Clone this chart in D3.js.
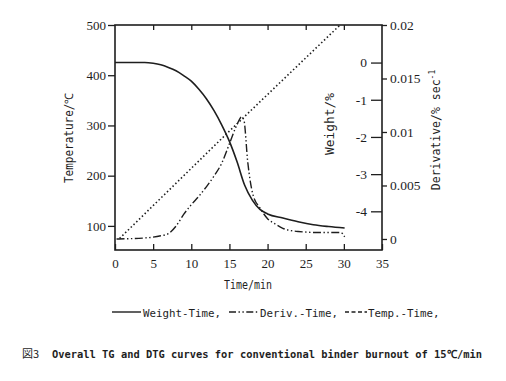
<!DOCTYPE html>
<html><head><meta charset="utf-8">
<script src="https://cdn.jsdelivr.net/npm/d3@7"></script>
<style>
html,body{margin:0;padding:0;background:#fff;}
svg{display:block;}
</style></head>
<body>
<svg id="c" width="506" height="381"></svg>
<script>
// ---- data ----
const weightTime = [0, 3.9, 5, 6, 7, 8, 9, 10, 11, 12, 13, 14, 15, 16, 17, 18, 19, 20, 22, 24, 26, 28, 30.1];
const weightVal  = [0, 0, -0.02, -0.06, -0.13, -0.22, -0.35, -0.5, -0.72, -0.98, -1.3, -1.68, -2.12, -2.67, -3.3, -3.7, -3.95, -4.07, -4.18, -4.28, -4.36, -4.41, -4.45];

const derivTime = [0.2, 4, 6, 7, 8, 9, 10, 11, 12, 13, 14, 15, 16, 16.6, 16.9, 17.4, 18.1, 19, 20, 21, 22, 24, 27, 29.6, 30.1];
const derivVal  = [0, 0.0001, 0.0003, 0.0005, 0.0012, 0.0023, 0.0032, 0.0040, 0.0049, 0.0059, 0.0071, 0.0089, 0.0107, 0.0114, 0.0111, 0.0072, 0.0041, 0.0029, 0.0019, 0.0014, 0.0010, 0.0007, 0.0006, 0.0006, 0.0002];

const tempTime = [0.6, 14.4, 29.5];
const tempVal  = [75, 280, 500];

const timeTicks   = [0, 5, 10, 15, 20, 25, 30, 35];
const tempTicks   = [100, 200, 300, 400, 500];
const weightTicks = [0, -1, -2, -3, -4];
const derivTicks  = [0, 0.005, 0.01, 0.015, 0.02];
const derivLabels = ["0", "0.005", "0.01", "0.015", "0.02"];

const legendLabels = ["Weight-Time,", "Deriv.-Time,", "Temp.-Time,"];
const captionPrefix = "図3";
const captionText = "Overall TG and DTG curves for conventional binder burnout of 15℃/min";

// ---- layout ----
const L = 115, R = 382, T = 25, B = 250;
const ink = "#1e1e1e";
const svg = d3.select("#c");

const x  = d3.scaleLinear().domain([0, 35]).range([L, R]);
const yT = d3.scaleLinear().domain([52, 500]).range([B, T]);
const yW = d3.scaleLinear().domain([-5.04, 1.01]).range([B, T]);
const yD = d3.scaleLinear().domain([-0.00103, 0.02]).range([B, T]);

const serif = "'Liberation Serif', serif";
const mono = "'DejaVu Sans Mono', monospace";

function styleAxis(g, size) {
  g.select(".domain").remove();
  g.selectAll(".tick line").attr("stroke", ink).attr("stroke-width", 1.3);
  g.selectAll(".tick text").attr("fill", ink).attr("font-family", serif).attr("font-size", size);
}

// bottom axis (ticks inward)
svg.append("g").attr("transform", `translate(0,${B})`)
  .call(d3.axisBottom(x).tickValues(timeTicks).tickSizeInner(-6).tickSizeOuter(0).tickPadding(9).tickFormat(d3.format("d")))
  .call(g => styleAxis(g, 13));

// top axis (ticks inward, no labels)
svg.append("g").attr("transform", `translate(0,${T})`)
  .call(d3.axisTop(x).tickValues(timeTicks.slice(1, -1)).tickSizeInner(-5).tickSizeOuter(0).tickFormat(""))
  .call(g => styleAxis(g, 13));

// left temperature axis (ticks outward)
svg.append("g").attr("transform", `translate(${L},0)`)
  .call(d3.axisLeft(yT).tickValues(tempTicks).tickSizeInner(7).tickSizeOuter(0).tickPadding(2).tickFormat(d3.format("d")))
  .call(g => styleAxis(g, 13));

// weight axis on right (ticks inward, labels left)
svg.append("g").attr("transform", `translate(${R},0)`)
  .call(d3.axisLeft(yW).tickValues(weightTicks).tickSizeInner(11).tickSizeOuter(0).tickPadding(4).tickFormat(d => d === 0 ? "0" : "-" + Math.abs(d)))
  .call(g => styleAxis(g, 13.5));

// derivative axis on right (ticks outward)
svg.append("g").attr("transform", `translate(${R},0)`)
  .call(d3.axisRight(yD).tickValues(derivTicks).tickSizeInner(5).tickSizeOuter(0).tickPadding(3).tickFormat((d, i) => derivLabels[i]))
  .call(g => styleAxis(g, 13.5));

// frame
svg.append("rect").attr("x", L).attr("y", T).attr("width", R - L).attr("height", B - T)
  .attr("fill", "none").attr("stroke", ink).attr("stroke-width", 1.6);

// curves
const lineW = d3.line().x((d, i) => x(weightTime[i])).y(d => yW(d)).curve(d3.curveMonotoneX);
const lineD = d3.line().x((d, i) => x(derivTime[i])).y(d => yD(d)).curve(d3.curveMonotoneX);
const lineT = d3.line().x((d, i) => x(tempTime[i])).y(d => yT(d));

svg.append("path").attr("d", lineT(tempVal)).attr("fill", "none").attr("stroke", ink)
  .attr("stroke-width", 1.6).attr("stroke-dasharray", "1.5,2.4");
svg.append("path").attr("d", lineD(derivVal)).attr("fill", "none").attr("stroke", ink)
  .attr("stroke-width", 1.4).attr("stroke-dasharray", "8,2.5,1.4,2.5,1.4,2.5");
svg.append("path").attr("d", lineW(weightVal)).attr("fill", "none").attr("stroke", ink)
  .attr("stroke-width", 1.6);

// axis titles
svg.append("text").attr("transform", "translate(73,138) rotate(-90)").attr("text-anchor", "middle")
  .attr("font-family", mono).attr("font-size", 11.5).attr("fill", ink)
  .attr("textLength", 90).attr("lengthAdjust", "spacingAndGlyphs").text("Temperature/℃");
svg.append("text").attr("transform", "translate(334,124) rotate(-90)").attr("text-anchor", "middle")
  .attr("font-family", mono).attr("font-size", 11.5).attr("fill", ink)
  .attr("textLength", 62).attr("lengthAdjust", "spacingAndGlyphs").text("Weight/%");
const dt = svg.append("text").attr("transform", "translate(440,130) rotate(-90)").attr("text-anchor", "middle")
  .attr("font-family", mono).attr("font-size", 11.5).attr("fill", ink);
dt.append("tspan").text("Derivative/% sec");
dt.append("tspan").attr("dy", -5).attr("font-size", 8).text("-1");
svg.append("text").attr("x", 248).attr("y", 289).attr("text-anchor", "middle")
  .attr("font-family", mono).attr("font-size", 11.5).attr("fill", ink)
  .attr("textLength", 48).attr("lengthAdjust", "spacingAndGlyphs").text("Time/min");

// legend
const legY = 312;
const leg = [
  {x1: 112, x2: 141, dash: null, tx: 143},
  {x1: 229, x2: 258, dash: "7,2.5,1.4,2.5,1.4,2.5", tx: 260},
  {x1: 345, x2: 367, dash: "4,2.5", tx: 368}
];
leg.forEach((o, i) => {
  svg.append("line").attr("x1", o.x1).attr("x2", o.x2).attr("y1", legY).attr("y2", legY)
    .attr("stroke", ink).attr("stroke-width", 1.4).attr("stroke-dasharray", o.dash);
  svg.append("text").attr("x", o.tx).attr("y", legY + 4.5)
    .attr("font-family", mono).attr("font-size", 10.8).attr("fill", ink)
    .text(legendLabels[i]);
});

// caption
svg.append("text").attr("x", 22).attr("y", 358)
  .attr("font-family", "'Noto Sans CJK JP', sans-serif").attr("font-size", 11).attr("fill", ink).text(captionPrefix);
svg.append("text").attr("x", 52).attr("y", 358)
  .attr("font-family", mono).attr("font-size", 11).attr("font-weight", "bold").attr("fill", ink)
  .attr("textLength", 430).attr("lengthAdjust", "spacingAndGlyphs").text(captionText);
</script>
</body></html>
